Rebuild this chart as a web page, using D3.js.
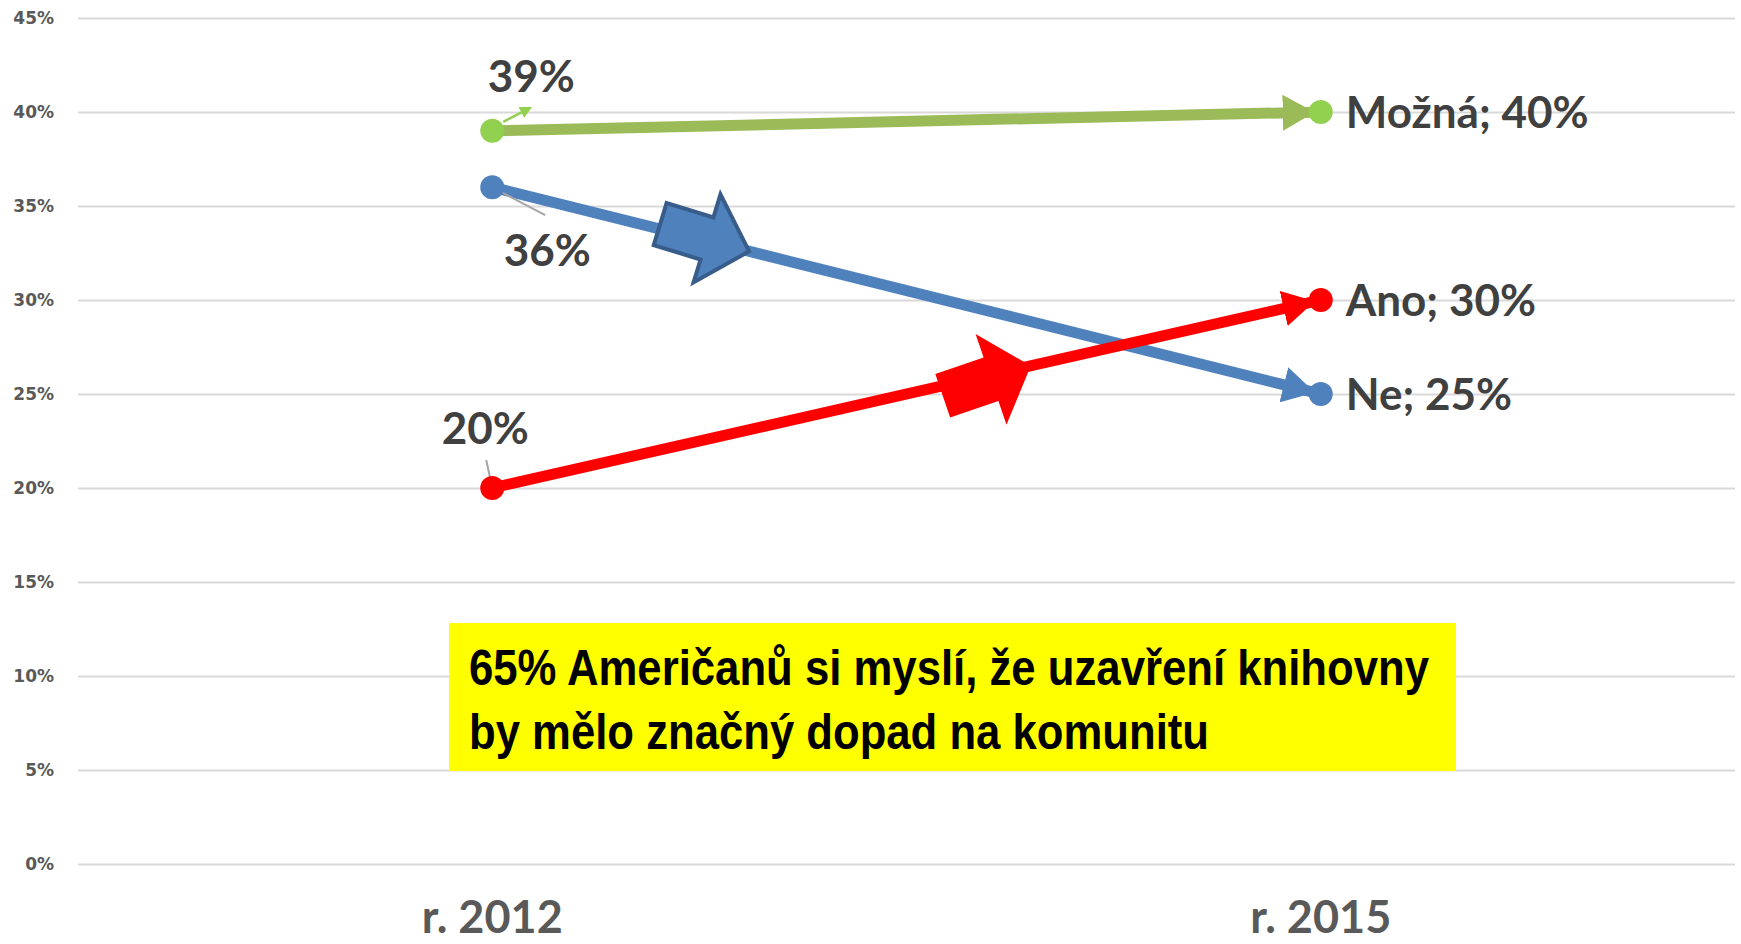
<!DOCTYPE html>
<html>
<head>
<meta charset="utf-8">
<script src="https://cdn.jsdelivr.net/npm/d3@7"></script>
<style>
  body { margin: 0; background: #fff; }
  svg { display: block; }
</style>
</head>
<body>
<div id="canvas"></div>
<script>
// data
const years = ["r. 2012", "r. 2015"];
const seriesNames = ["Možná", "Ne", "Ano"];
const mozna = [39, 40];
const ne = [36, 25];
const ano = [20, 30];
const yTicks = [0, 5, 10, 15, 20, 25, 30, 35, 40, 45];
const note = ["65% Američanů si myslí, že uzavření knihovny", "by mělo značný dopad na komunitu"];

const width = 1741;
const height = 944;
const margin = { top: 18, left: 78, bottom: 80, right: 6 };

const svg = d3.select("#canvas").append("svg")
  .attr("width", width)
  .attr("height", height);

const y = d3.scaleLinear()
  .domain([0, 45])
  .range([height - margin.bottom, margin.top]);

const x = d3.scalePoint()
  .domain(years)
  .range([margin.left, width - margin.right])
  .padding(0.5);

// gridlines + y labels
const yAxis = svg.append("g")
  .attr("transform", `translate(${margin.left},0)`)
  .call(d3.axisLeft(y).tickValues(yTicks).tickFormat(d => d + "%")
    .tickSize(-(width - margin.left - margin.right)).tickPadding(24));
yAxis.select(".domain").remove();
yAxis.selectAll(".tick line").attr("stroke", "#d9d9d9").attr("stroke-width", 2);
yAxis.selectAll(".tick text")
  .attr("fill", "#595959")
  .style("font-family", "'DejaVu Sans', Verdana, sans-serif")
  .style("font-weight", "bold")
  .style("font-size", "17px");

// x labels
svg.append("g").selectAll("text").data(years).enter().append("text")
  .attr("x", d => x(d))
  .attr("y", 933)
  .attr("text-anchor", "middle")
  .attr("fill", "#595959")
  .style("font-family", "Lato, 'Open Sans', sans-serif")
  .style("font-weight", "bold")
  .style("font-size", "45px")
  .text(d => d);

// yellow note box
const box = { x0: 449, x1: 1456, y0: 623, y1: 771 };
svg.append("rect")
  .attr("x", box.x0).attr("y", box.y0)
  .attr("width", box.x1 - box.x0).attr("height", box.y1 - box.y0)
  .attr("fill", "#ffff00");
const noteWidths = [960, 740];
svg.append("g").selectAll("text").data(note).enter().append("text")
  .attr("x", 469)
  .attr("y", (d, i) => 685 + i * 64)
  .attr("textLength", (d, i) => noteWidths[i])
  .attr("lengthAdjust", "spacingAndGlyphs")
  .attr("fill", "#000")
  .style("font-family", "'Liberation Sans Narrow', 'Arial Narrow', 'Liberation Sans', Arial, sans-serif")
  .style("font-weight", "bold")
  .style("font-size", "50px")
  .text(d => d);

const series = [
  { name: seriesNames[0], values: mozna, line: "#9bbb59", dot: "#92d050" },
  { name: seriesNames[1], values: ne, line: "#4f81bd", dot: "#4f81bd" },
  { name: seriesNames[2], values: ano, line: "#ff0000", dot: "#ff0000" }
];

const defs = svg.append("defs");
series.forEach((s, i) => {
  defs.append("marker")
    .attr("id", "head" + i)
    .attr("markerUnits", "userSpaceOnUse")
    .attr("markerWidth", 32).attr("markerHeight", 36)
    .attr("refX", 32).attr("refY", 18)
    .attr("orient", "auto")
    .append("path").attr("d", "M0,0L32,18L0,36Z").attr("fill", s.line);
});
defs.append("marker")
  .attr("id", "smallHead")
  .attr("markerUnits", "userSpaceOnUse")
  .attr("markerWidth", 12).attr("markerHeight", 12)
  .attr("refX", 10).attr("refY", 6)
  .attr("orient", "auto")
  .append("path").attr("d", "M0,0L12,6L0,12Z").attr("fill", "#92d050");

function pts(s) {
  return s.values.map((v, i) => [x(years[i]), y(v)]);
}

// lines with arrow ends
series.forEach((s, i) => {
  const [p0, p1] = pts(s);
  const len = Math.hypot(p1[0] - p0[0], p1[1] - p0[1]);
  const e = [p1[0] - (p1[0] - p0[0]) / len * 6, p1[1] - (p1[1] - p0[1]) / len * 6];
  svg.append("path")
    .attr("d", d3.line()([p0, e]))
    .attr("fill", "none")
    .attr("stroke", s.line)
    .attr("stroke-width", 11)
    .attr("marker-end", `url(#head${i})`);
});

// block arrows on blue and red lines
function blockArrow(s, t, extraAngle, fill, stroke, hw, sw, L, hl) {
  const [p0, p1] = pts(s);
  const tip = [p0[0] + (p1[0] - p0[0]) * t, p0[1] + (p1[1] - p0[1]) * t];
  const ang = Math.atan2(p1[1] - p0[1], p1[0] - p0[0]) * 180 / Math.PI + extraAngle;
  svg.append("path")
    .attr("d", `M0,0L${-hl},${-hw}L${-hl},${-sw}L${-L},${-sw}L${-L},${sw}L${-hl},${sw}L${-hl},${hw}Z`)
    .attr("transform", `translate(${tip[0]},${tip[1]}) rotate(${ang})`)
    .attr("fill", fill)
    .attr("stroke", stroke || "none")
    .attr("stroke-width", stroke ? 4 : 0)
    .attr("stroke-linejoin", "miter");
}
blockArrow(series[1], 0.31, 3, "#4f81bd", "#385d8a", 46, 22, 93, 44);
blockArrow(series[2], 0.65, -6, "#ff0000", null, 48, 23, 93, 42);

// leader lines for start labels
const g0 = pts(series[0])[0], b0 = pts(series[1])[0], r0 = pts(series[2])[0];
svg.append("line")
  .attr("x1", g0[0] + 11).attr("y1", g0[1] - 9)
  .attr("x2", g0[0] + 38).attr("y2", g0[1] - 23)
  .attr("stroke", "#92d050").attr("stroke-width", 2.5)
  .attr("marker-end", "url(#smallHead)");
svg.append("line")
  .attr("x1", b0[0]).attr("y1", b0[1])
  .attr("x2", b0[0] + 53).attr("y2", b0[1] + 28)
  .attr("stroke", "#a6a6a6").attr("stroke-width", 2);
svg.append("line")
  .attr("x1", r0[0] - 6).attr("y1", r0[1] - 28)
  .attr("x2", r0[0]).attr("y2", r0[1])
  .attr("stroke", "#a6a6a6").attr("stroke-width", 2);

// dots
series.forEach(s => {
  svg.append("g").selectAll("circle").data(pts(s)).enter().append("circle")
    .attr("cx", d => d[0]).attr("cy", d => d[1])
    .attr("r", 12)
    .attr("fill", s.dot);
});

// labels
const labelFont = sel => sel
  .attr("fill", "#404040")
  .style("font-family", "Lato, 'Open Sans', sans-serif")
  .style("font-weight", "bold")
  .style("font-size", "44px");

const startLabels = [
  { s: series[0], dx: 39, dy: -39 },
  { s: series[1], dx: 55, dy: 79 },
  { s: series[2], dx: -7, dy: -44 }
];
startLabels.forEach(l => {
  const p = pts(l.s)[0];
  svg.append("text")
    .attr("x", p[0] + l.dx).attr("y", p[1] + l.dy)
    .attr("text-anchor", "middle")
    .call(labelFont)
    .text(l.s.values[0] + "%");
});
series.forEach(s => {
  const p = pts(s)[1];
  svg.append("text")
    .attr("x", p[0] + 25).attr("y", p[1] + 16)
    .call(labelFont)
    .text(`${s.name}; ${s.values[1]}%`);
});
</script>
</body>
</html>
